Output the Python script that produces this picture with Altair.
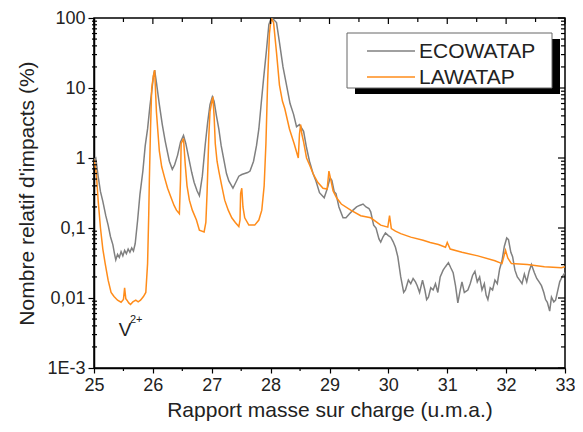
import altair as alt
import pandas as pd

# ECOWATAP (grey) spectrum
eco_x = [25.00, 25.03, 25.07, 25.11, 25.15, 25.20, 25.24, 25.28, 25.32, 25.35, 25.37, 25.40, 25.43, 25.46,
         25.49, 25.52, 25.55, 25.58, 25.61, 25.64, 25.67, 25.70, 25.74, 25.78, 25.83, 25.87, 25.91, 25.95,
         25.98, 26.01, 26.03, 26.06, 26.11, 26.16, 26.21, 26.28, 26.33, 26.37, 26.42, 26.47, 26.52, 26.56,
         26.62, 26.66, 26.70, 26.75, 26.79, 26.84, 26.89, 26.93, 26.97, 27.01, 27.04, 27.08, 27.12, 27.16,
         27.21, 27.25, 27.29, 27.36, 27.41, 27.46, 27.51, 27.56, 27.61, 27.65, 27.71, 27.76, 27.80, 27.84,
         27.88, 27.93, 27.97, 28.01, 28.05, 28.10, 28.15, 28.21, 28.27, 28.33, 28.39, 28.44, 28.49, 28.56,
         28.61, 28.66, 28.72, 28.77, 28.83, 28.91, 28.96, 29.01, 29.04, 29.08, 29.11, 29.16, 29.23, 29.28,
         29.34, 29.40, 29.46, 29.51, 29.57, 29.62, 29.67, 29.70, 29.75, 29.79, 29.84, 29.87, 29.91, 29.95,
         30.00, 30.04, 30.08, 30.12, 30.16, 30.21, 30.26, 30.29, 30.34, 30.38, 30.42, 30.46, 30.49, 30.53,
         30.58, 30.62, 30.65, 30.68, 30.72, 30.76, 30.80, 30.84, 30.88, 30.93, 30.97, 31.02, 31.06, 31.10,
         31.14, 31.18, 31.22, 31.25, 31.29, 31.35, 31.39, 31.43, 31.47, 31.51, 31.55, 31.59, 31.63, 31.66,
         31.69, 31.73, 31.77, 31.81, 31.85, 31.89, 31.93, 31.97, 32.01, 32.04, 32.08, 32.11, 32.15, 32.19,
         32.23, 32.27, 32.31, 32.35, 32.39, 32.43, 32.48, 32.52, 32.56, 32.60, 32.64, 32.67, 32.70, 32.74,
         32.77, 32.81, 32.84, 32.87, 32.91, 32.95, 33.00]
eco_y = [0.95, 1.0, 0.55, 0.33, 0.24, 0.15, 0.11, 0.075, 0.058, 0.042, 0.035, 0.042, 0.038, 0.046,
         0.040, 0.048, 0.043, 0.050, 0.045, 0.052, 0.047, 0.060, 0.127, 0.30, 0.65, 1.5, 2.6, 5.5,
         8.8, 15, 18, 12, 5.8, 3.0, 1.73, 0.9, 0.69, 0.8, 1.1, 1.7, 2.1, 1.6,
         0.9, 0.62, 0.45, 0.34, 0.29, 0.55, 1.57, 3.2, 5.8, 7.5, 6.5, 4.0, 2.6, 1.5,
         0.9, 0.6, 0.47, 0.37, 0.45, 0.55, 0.58, 0.60, 0.62, 0.65, 0.9, 1.5, 2.6, 6.0,
         13.5, 35, 80, 100, 95, 86, 45, 20, 11, 6.0, 4.2, 2.8, 3.0, 2.4,
         1.4, 0.9, 0.6, 0.47, 0.32, 0.27, 0.36, 0.52, 0.48, 0.33, 0.31, 0.2, 0.14, 0.14,
         0.16, 0.18, 0.2, 0.21, 0.22, 0.2, 0.19, 0.17, 0.11, 0.1, 0.07, 0.063, 0.075, 0.085,
         0.078, 0.074, 0.064, 0.053, 0.039, 0.02, 0.012, 0.013, 0.018, 0.016, 0.019, 0.017, 0.015, 0.012,
         0.018, 0.013, 0.0095, 0.0103, 0.014, 0.013, 0.016, 0.012, 0.02, 0.025, 0.028, 0.032, 0.027, 0.023,
         0.015, 0.0085, 0.013, 0.017, 0.012, 0.013, 0.016, 0.021, 0.024, 0.017, 0.02, 0.013, 0.016, 0.011,
         0.0095, 0.014, 0.013, 0.018, 0.016, 0.026, 0.034, 0.055, 0.072, 0.068, 0.045, 0.039, 0.025, 0.02,
         0.018, 0.016, 0.022, 0.017, 0.024, 0.03, 0.023, 0.019, 0.017, 0.015, 0.012, 0.0095, 0.0087, 0.0065,
         0.0103, 0.0088, 0.0093, 0.012, 0.017, 0.02, 0.023]

# LAWATAP (orange) spectrum
law_x = [25.00, 25.04, 25.07, 25.11, 25.15, 25.19, 25.24, 25.29, 25.34, 25.40, 25.46, 25.50, 25.52, 25.54,
         25.56, 25.59, 25.62, 25.66, 25.71, 25.75, 25.79, 25.84, 25.88, 25.91, 25.93, 25.94, 25.96, 25.98,
         26.01, 26.03, 26.06, 26.11, 26.15, 26.20, 26.25, 26.31, 26.36, 26.40, 26.45, 26.47, 26.48, 26.52,
         26.55, 26.58, 26.62, 26.67, 26.74, 26.79, 26.87, 26.90, 26.92, 26.95, 26.97, 27.01, 27.02, 27.04,
         27.06, 27.09, 27.12, 27.17, 27.22, 27.28, 27.34, 27.40, 27.46, 27.48, 27.49, 27.51, 27.53, 27.56,
         27.63, 27.73, 27.80, 27.85, 27.89, 27.92, 27.95, 27.98, 28.01, 28.05, 28.10, 28.15, 28.20, 28.24,
         28.32, 28.40, 28.47, 28.49, 28.51, 28.53, 28.56, 28.61, 28.66, 28.72, 28.80, 28.89, 28.96, 28.99,
         29.02, 29.06, 29.12, 29.20, 29.36, 29.53, 29.70, 29.87, 29.99, 30.02, 30.05, 30.12, 30.21, 30.38,
         30.59, 30.71, 30.85, 30.97, 31.00, 31.05, 31.25, 31.52, 31.81, 31.93, 31.99, 32.03, 32.09, 32.36,
         32.65, 32.94, 33.00]
law_y = [0.95, 0.6, 0.25, 0.1, 0.05, 0.031, 0.018, 0.012, 0.0105, 0.0093, 0.0087, 0.0095, 0.014, 0.0098,
         0.0093, 0.0085, 0.0081, 0.0088, 0.0093, 0.0088, 0.0093, 0.0105, 0.012, 0.031, 0.16, 0.47, 2.6, 10,
         15, 18, 4.6, 1.25, 0.75, 0.52, 0.37, 0.27, 0.21, 0.18, 0.16, 0.5, 1.6, 1.9, 0.8,
         0.4, 0.25, 0.18, 0.13, 0.093, 0.088, 0.12, 0.31, 2.0, 4.6, 7.0, 7.2, 4.0,
         1.6, 0.9, 0.65, 0.4, 0.25, 0.18, 0.14, 0.12, 0.105, 0.13, 0.31, 0.37, 0.2, 0.14,
         0.11, 0.11, 0.13, 0.18, 0.4, 1.6, 13, 60, 100, 86, 32, 11, 6.5, 5.1,
         2.6, 1.6, 1.0, 2.2, 3.0, 2.2, 1.7, 1.0, 0.8, 0.6, 0.45, 0.37, 0.36, 0.65,
         0.5, 0.34, 0.27, 0.22, 0.18, 0.15, 0.14, 0.11, 0.103, 0.15, 0.098, 0.09, 0.083, 0.074,
         0.067, 0.062, 0.058, 0.053, 0.062, 0.05, 0.045, 0.04, 0.034, 0.031, 0.048, 0.037, 0.031, 0.030,
         0.028, 0.027, 0.028]

series_names = ["ECOWATAP", "LAWATAP"]
series_colors = ["#808080", "#ff8c1a"]

x_major = [25, 26, 27, 28, 29, 30, 31, 32, 33]
x_minor = [25.5, 26.5, 27.5, 28.5, 29.5, 30.5, 31.5, 32.5]
y_major = [0.001, 0.01, 0.1, 1, 10, 100]
y_minor = [0.002, 0.003, 0.004, 0.005, 0.006, 0.007, 0.008, 0.009,
           0.02, 0.03, 0.04, 0.05, 0.06, 0.07, 0.08, 0.09,
           0.2, 0.3, 0.4, 0.5, 0.6, 0.7, 0.8, 0.9,
           2, 3, 4, 5, 6, 7, 8, 9,
           20, 30, 40, 50, 60, 70, 80, 90]

W, H = 471, 350
FONT = "Liberation Sans"
TXT = "#222222"

xs = alt.Scale(domain=[25, 33], nice=False, zero=False)
ys = alt.Scale(type="log", domain=[0.001, 100], nice=False)

x_enc = alt.X("x:Q", scale=xs, axis=alt.Axis(
    values=x_major, format="d", tickSize=5, labelFontSize=18, labelPadding=3,
    labelFlush=False, title="Rapport masse sur charge (u.m.a.)", titleFontSize=21,
    titlePadding=5))
y_enc = alt.Y("y:Q", scale=ys, axis=alt.Axis(
    values=y_major, tickSize=6, labelFontSize=18, labelPadding=3, labelFlush=False,
    labelExpr="datum.value >= 50 ? '100' : datum.value >= 5 ? '10' : datum.value >= 0.5 ? '1' : "
              "datum.value >= 0.05 ? '0,1' : datum.value >= 0.005 ? '0,01' : '1E-3'",
    title="Nombre relatif d'impacts (%)", titleFontSize=21, titlePadding=9))

eco = pd.DataFrame({"x": eco_x, "y": eco_y})
law = pd.DataFrame({"x": law_x, "y": law_y})

line_eco = alt.Chart(eco).mark_line(color=series_colors[0], strokeWidth=1.5, clip=True).encode(x=x_enc, y=y_enc)
line_law = alt.Chart(law).mark_line(color=series_colors[1], strokeWidth=1.5, clip=True).encode(x=x_enc, y=y_enc)

dxM = pd.DataFrame({"x": x_major})
dxm = pd.DataFrame({"x": x_minor})
dyM = pd.DataFrame({"y": y_major})
dym = pd.DataFrame({"y": y_minor})

tick_kw = dict(color="black", strokeWidth=1.2)
top_major = alt.Chart(dxM).mark_rule(**tick_kw).encode(x=x_enc, y=alt.value(0), y2=alt.value(6))
top_minor = alt.Chart(dxm).mark_rule(**tick_kw).encode(x=x_enc, y=alt.value(0), y2=alt.value(4))
bot_minor = alt.Chart(dxm).mark_rule(**tick_kw).encode(x=x_enc, y=alt.value(H), y2=alt.value(H + 3))
right_major = alt.Chart(dyM).mark_rule(**tick_kw).encode(y=y_enc, x=alt.value(W), x2=alt.value(W - 7))
right_minor = alt.Chart(dym).mark_rule(**tick_kw).encode(y=y_enc, x=alt.value(W), x2=alt.value(W - 4))
left_minor = alt.Chart(dym).mark_rule(**tick_kw).encode(y=y_enc, x=alt.value(-2), x2=alt.value(3))

one = pd.DataFrame({"d": [0]})
shadow = alt.Chart(one).mark_rect(color="black").encode(
    x=alt.value(261), x2=alt.value(466), y=alt.value(21), y2=alt.value(76))
box = alt.Chart(one).mark_rect(fill="white", stroke="#666666", strokeWidth=1).encode(
    x=alt.value(253), x2=alt.value(458), y=alt.value(15), y2=alt.value(70))
leg_l1 = alt.Chart(one).mark_rule(color=series_colors[0], strokeWidth=1.5).encode(
    x=alt.value(273), x2=alt.value(321), y=alt.value(33))
leg_l2 = alt.Chart(one).mark_rule(color=series_colors[1], strokeWidth=1.5).encode(
    x=alt.value(273), x2=alt.value(321), y=alt.value(59))
leg_t1 = alt.Chart(one).mark_text(align="left", baseline="middle", fontSize=21, font=FONT, color=TXT).encode(
    x=alt.value(325), y=alt.value(34), text=alt.value(series_names[0]))
leg_t2 = alt.Chart(one).mark_text(align="left", baseline="middle", fontSize=21, font=FONT, color=TXT).encode(
    x=alt.value(325), y=alt.value(60), text=alt.value(series_names[1]))

ann_v = alt.Chart(pd.DataFrame({"x": [25.53], "y": [0.0029], "t": ["V"]})).mark_text(
    align="center", baseline="alphabetic", fontSize=19, font=FONT, color=TXT).encode(x=x_enc, y=y_enc, text="t:N")
ann_s = alt.Chart(pd.DataFrame({"x": [25.61], "y": [0.0044], "t": ["2+"]})).mark_text(
    align="left", baseline="alphabetic", fontSize=11, font=FONT, color=TXT).encode(x=x_enc, y=y_enc, text="t:N")

chart = alt.layer(
    line_eco, line_law, top_major, top_minor, bot_minor, right_major, right_minor, left_minor,
    shadow, box, leg_l1, leg_l2, leg_t1, leg_t2, ann_v, ann_s
).properties(
    width=W, height=H,
    autosize=alt.AutoSizeParams(type="none"),
    padding={"left": 86, "top": 10, "right": 10, "bottom": 56},
).configure_view(
    stroke="black", strokeWidth=1.5
).configure_axis(
    domainColor="black", domainWidth=1.5, tickColor="black", tickWidth=1.2, grid=False,
    labelFont=FONT, titleFont=FONT, labelColor=TXT, titleColor=TXT, titleFontWeight="normal"
)

chart.save("out.html", embed_options={"renderer": "svg", "actions": False})
